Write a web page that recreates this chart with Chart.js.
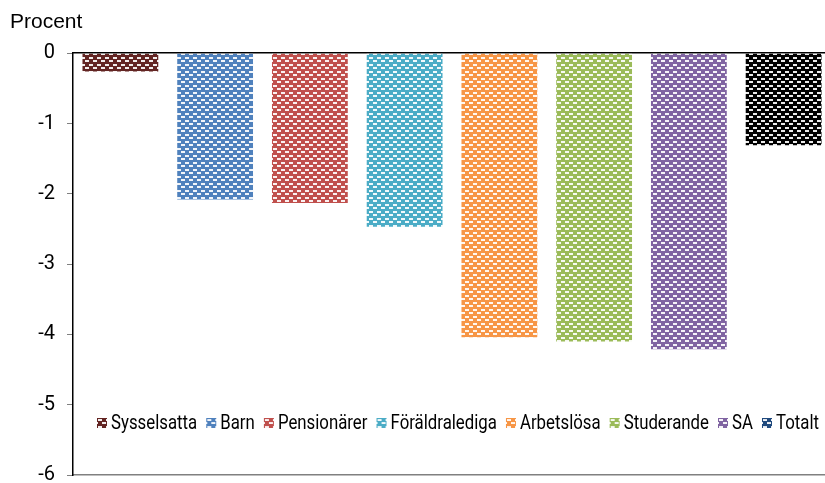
<!DOCTYPE html>
<html lang="sv">
<head>
    <meta charset="UTF-8">
    <title>Procent</title>
    <script src="https://cdn.jsdelivr.net/npm/chart.js"></script>
    <style>
        html, body { margin: 0; background: #fff; overflow: hidden; }
        /* the original plot runs a few pixels past the right edge, so the canvas is a bit wider than the window */
        #wrap { width: 831px; height: 483px; }
    </style>
</head>
<body>
    <div id="wrap"><canvas id="chart"></canvas></div>
    <script>
        // Data
        const categories = ['Sysselsatta', 'Barn', 'Pensionärer', 'Föräldralediga', 'Arbetslösa', 'Studerande', 'SA', 'Totalt'];
        const values = [-0.26, -2.08, -2.13, -2.47, -4.04, -4.10, -4.21, -1.31];
        const barColors = ['#632523', '#4F81BD', '#C0504D', '#4BACC6', '#F79646', '#9BBB59', '#8064A2', '#000000'];
        const legendColors = ['#632523', '#4F81BD', '#C0504D', '#4BACC6', '#F79646', '#9BBB59', '#8064A2', '#1F497D'];
        const yTicks = [0, -1, -2, -3, -4, -5, -6];

        const sans = 'Roboto, "Liberation Sans", sans-serif';

        // brick-like pattern: colour fill with rows of offset white dashes
        function makePattern(color) {
            const c = document.createElement('canvas');
            c.width = 8; c.height = 7;
            const g = c.getContext('2d');
            g.fillStyle = color;
            g.fillRect(0, 0, 8, 7);
            g.fillStyle = 'rgba(255,255,255,0.92)';
            g.fillRect(1, 1, 4, 2);
            g.fillRect(5, 4, 4, 2);
            g.fillRect(-3, 4, 4, 2);
            return g.createPattern(c, 'repeat');
        }

        const datasets = categories.map((name, i) => ({
            label: name,
            data: categories.map((_, j) => j === i ? values[i] : null),
            backgroundColor: makePattern(barColors[i]),
            borderWidth: 0,
            barPercentage: 0.8,
            categoryPercentage: 1.0,
            grouped: false
        }));

        // legend drawn inside the plot area, like the original
        const innerLegend = {
            id: 'innerLegend',
            afterDraw(chart) {
                const ctx = chart.ctx;
                const sx = 0.84;
                ctx.save();
                ctx.font = '20px ' + sans;
                ctx.textBaseline = 'middle';
                const box = 10, gapText = 4;
                const textW = categories.map(t => ctx.measureText(t).width * sx);
                const start = 97, end = 819;
                const used = textW.reduce((a, b) => a + b, 0) + categories.length * (box + gapText);
                const gapItem = Math.max(6, (end - start - used) / (categories.length - 1));
                let x = start;
                const y = 423;
                categories.forEach((t, i) => {
                    ctx.save();
                    ctx.fillStyle = makePattern(legendColors[i]);
                    ctx.translate(x, y - box / 2);
                    ctx.fillRect(0, 0, box, box);
                    ctx.restore();
                    ctx.save();
                    ctx.fillStyle = '#000';
                    ctx.translate(x + box + gapText, y + 1);
                    ctx.scale(sx, 1);
                    ctx.fillText(t, 0, 0);
                    ctx.restore();
                    x += box + gapText + textW[i] + gapItem;
                });
                ctx.restore();
            }
        };

        new Chart(document.getElementById('chart'), {
            type: 'bar',
            data: { labels: categories, datasets: datasets },
            plugins: [innerLegend],
            options: {
                responsive: true,
                maintainAspectRatio: false,
                animation: false,
                layout: { padding: { left: 10, right: 0, top: 0, bottom: 8 } },
                scales: {
                    x: {
                        position: 'top',
                        grid: { display: false },
                        border: { display: true, color: '#000', width: 1.5 },
                        ticks: { display: false },
                        afterFit: axis => { axis.height = 0; }
                    },
                    x2: {
                        position: 'bottom',
                        grid: { display: false },
                        border: { display: true, color: '#808080', width: 1.5 },
                        ticks: { display: false },
                        afterFit: axis => { axis.height = 0; }
                    },
                    y: {
                        min: -6,
                        max: 0,
                        afterBuildTicks: axis => { axis.ticks = yTicks.map(v => ({ value: v })); },
                        afterFit: axis => {
                            axis.width = 63;
                            axis.paddingTop = 0;
                            axis.paddingBottom = 0;
                        },
                        grid: { drawOnChartArea: false, tickLength: 6, color: '#808080' },
                        border: { display: true, color: '#000', width: 1.5 },
                        ticks: { color: '#000', font: { family: sans, size: 20 }, padding: 12 }
                    }
                },
                plugins: {
                    legend: { display: false },
                    tooltip: { enabled: false },
                    title: {
                        display: true,
                        text: 'Procent',
                        align: 'start',
                        color: '#000',
                        font: { family: '"Liberation Sans", Arial, sans-serif', size: 21, weight: 'normal' },
                        padding: { top: 10, bottom: 18 }
                    }
                }
            }
        });
    </script>
</body>
</html>
